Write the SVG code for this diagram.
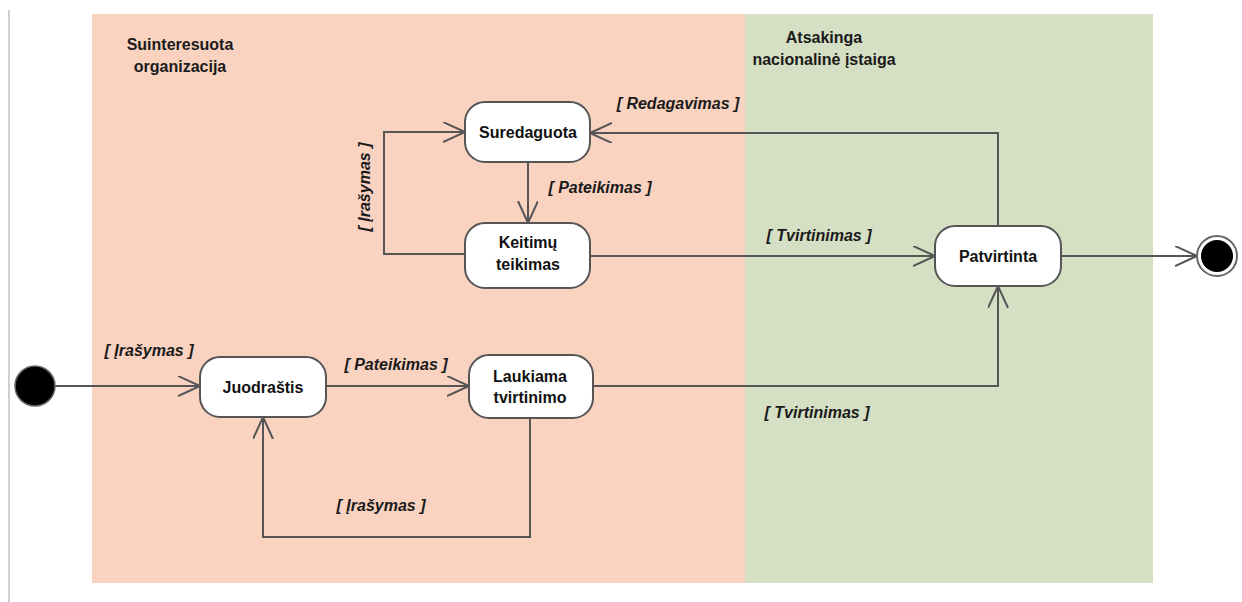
<svg xmlns="http://www.w3.org/2000/svg" width="1242" height="602" viewBox="0 0 1242 602">
<style>
.lane-title{font-family:"Liberation Sans",Arial,sans-serif;font-weight:bold;font-size:16px;fill:#1a1a1a;text-anchor:middle}
.node rect{fill:#fff;stroke:#555;stroke-width:2}
.node text{font-family:"Liberation Sans",Arial,sans-serif;font-weight:bold;font-size:16px;fill:#111;text-anchor:middle}
.lbl{font-family:"Liberation Sans",Arial,sans-serif;font-weight:bold;font-style:italic;font-size:16px;fill:#1a1a1a;text-anchor:middle}
.conn{fill:none;stroke:#555;stroke-width:2;marker-end:url(#arr)}
</style>
<defs>
<marker id="arr" markerUnits="userSpaceOnUse" markerWidth="24" markerHeight="22" refX="22" refY="10" orient="auto">
<path d="M0,0 L22,10 L0,20" fill="none" stroke="#555" stroke-width="2"/>
</marker>
</defs>
<rect x="0" y="0" width="1242" height="602" fill="#fff"/>
<line x1="9" y1="10" x2="9" y2="602" stroke="#cfcfcf" stroke-width="2"/>
<g id="lane-organizacija">
<rect x="92" y="14" width="653" height="569" fill="#F9D3C0"/>
<text class="lane-title" x="180" y="50">Suinteresuota</text>
<text class="lane-title" x="180" y="72">organizacija</text>
</g>
<g id="lane-istaiga">
<rect x="745" y="14" width="408" height="569" fill="#D5DFC3"/>
<text class="lane-title" x="824" y="43">Atsakinga</text>
<text class="lane-title" x="824" y="65">nacionalinė įstaiga</text>
</g>
<g id="connectors">
<path class="conn" d="M55,386 L200,386"/>
<path class="conn" d="M326,386 L469,386"/>
<path class="conn" d="M593,386 L998,386 L998,286"/>
<path class="conn" d="M530,418 L530,537 L263,537 L263,417"/>
<path class="conn" d="M528,162 L528,223"/>
<path class="conn" d="M465,254 L384,254 L384,132 L465,132"/>
<path class="conn" d="M590,256 L935,256"/>
<path class="conn" d="M998,226 L998,133 L590,133"/>
<path class="conn" d="M1061,256 L1197,256"/>
<text class="lbl" x="149" y="356">[ Įrašymas ]</text>
<text class="lbl" x="396" y="370">[ Pateikimas ]</text>
<text class="lbl" x="381" y="511">[ Įrašymas ]</text>
<text class="lbl" x="817" y="418">[ Tvirtinimas ]</text>
<text class="lbl" x="819" y="241">[ Tvirtinimas ]</text>
<text class="lbl" x="678" y="109">[ Redagavimas ]</text>
<text class="lbl" x="600" y="193">[ Pateikimas ]</text>
<text class="lbl" transform="translate(370,187) rotate(-90)">[ Įrašymas ]</text>
</g>
<g id="start">
<circle cx="35" cy="386" r="20" fill="#000" stroke="#666" stroke-width="1.5"/>
</g>
<g id="node-juodrastis" class="node">
<rect x="200" y="357" width="126" height="60" rx="20"/>
<text x="263" y="393">Juodraštis</text>
</g>
<g id="node-laukiama" class="node">
<rect x="469" y="355" width="124" height="63" rx="20"/>
<text x="530" y="382">Laukiama</text>
<text x="530" y="403">tvirtinimo</text>
</g>
<g id="node-suredaguota" class="node">
<rect x="465" y="102" width="125" height="60" rx="20"/>
<text x="528" y="138">Suredaguota</text>
</g>
<g id="node-keitimu" class="node">
<rect x="465" y="223" width="125" height="65" rx="20"/>
<text x="528" y="248">Keitimų</text>
<text x="528" y="270">teikimas</text>
</g>
<g id="node-patvirtinta" class="node">
<rect x="935" y="226" width="126" height="60" rx="20"/>
<text x="998" y="262">Patvirtinta</text>
</g>
<g id="end">
<circle cx="1217" cy="256" r="20" fill="#fff" stroke="#666" stroke-width="2"/>
<circle cx="1217" cy="256" r="16" fill="#000"/>
</g>
</svg>
